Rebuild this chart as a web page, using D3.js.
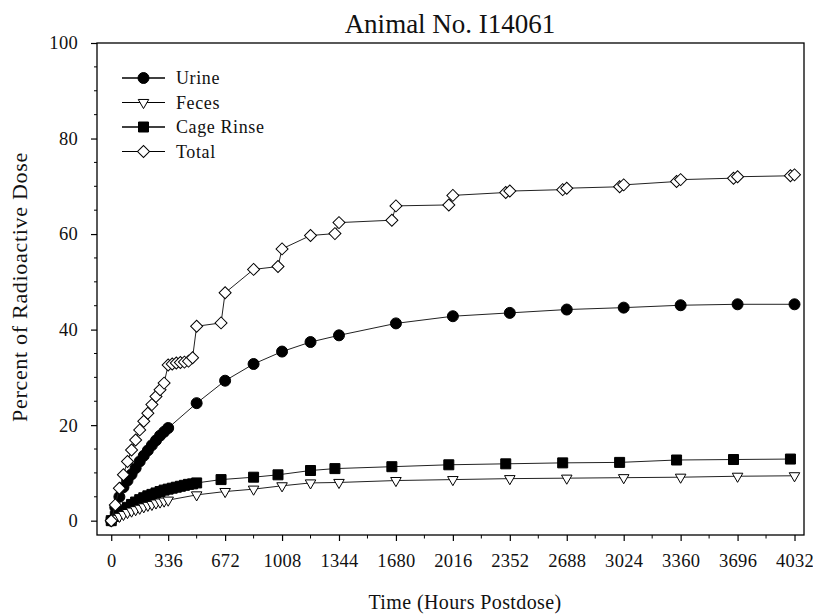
<!DOCTYPE html>
<html>
<head>
<meta charset="utf-8">
<script src="https://cdn.jsdelivr.net/npm/d3@7"></script>
<style>
  body { margin: 0; background: #fff; }
  svg text { font-family: "Liberation Serif", "Times New Roman", serif; fill: #111; }
</style>
</head>
<body>
<svg id="chart" width="813" height="614"></svg>
<script>
// data (hours postdose, % of dose)
var urineHours = [0, 24, 48, 72, 96, 120, 144, 168, 192, 216, 240, 264, 288, 312, 336,
    504, 672, 840, 1008, 1176, 1344, 1680, 2016, 2352, 2688, 3024, 3360, 3696, 4032];
var urineValues = [0, 2.8, 5.0, 7.0, 8.4, 9.7, 11.0, 12.4, 13.6, 14.7, 15.8, 16.8, 17.8, 18.6, 19.4,
    24.6, 29.3, 32.8, 35.4, 37.4, 38.8, 41.3, 42.8, 43.5, 44.2, 44.6, 45.1, 45.3, 45.3];

var fecesHours = [0, 24, 48, 72, 96, 120, 144, 168, 192, 216, 240, 264, 288, 312, 336,
    504, 672, 840, 1008, 1176, 1344, 1680, 2016, 2352, 2688, 3024, 3360, 3696, 4032];
var fecesValues = [0, 0.5, 0.9, 1.3, 1.7, 2.0, 2.3, 2.6, 2.9, 3.2, 3.4, 3.7, 3.9, 4.1, 4.3,
    5.4, 6.1, 6.6, 7.3, 7.9, 8.0, 8.4, 8.6, 8.8, 8.9, 9.0, 9.1, 9.3, 9.4];

var cageHours = [0, 24, 48, 72, 96, 120, 144, 168, 192, 216, 240, 264, 288, 312, 336,
    360, 384, 408, 432, 456, 480, 504,
    648, 840, 984, 1176, 1320, 1656, 1992, 2328, 2664, 3000, 3336, 3672, 4008];
var cageValues = [0, 0.9, 1.6, 2.2, 2.8, 3.4, 3.9, 4.4, 4.8, 5.2, 5.5, 5.8, 6.1, 6.4, 6.6,
    6.8, 7.0, 7.2, 7.4, 7.6, 7.7, 7.9,
    8.6, 9.1, 9.6, 10.5, 10.9, 11.3, 11.7, 11.9, 12.1, 12.2, 12.7, 12.8, 12.9];

var totalHours = [0, 24, 48, 72, 96, 120, 144, 168, 192, 216, 240, 264, 288, 312,
    336, 360, 384, 408, 432, 456, 480,
    504, 648, 672, 840, 984, 1008, 1176, 1320, 1344, 1656, 1680, 1992, 2016,
    2328, 2352, 2664, 2688, 3000, 3024, 3336, 3360, 3672, 3696, 4008, 4032];
var totalValues = [0, 3.3, 6.8, 9.6, 12.4, 14.8, 16.9, 19.0, 20.8, 22.5, 24.3, 26.0, 27.4, 28.8,
    32.6, 32.8, 33.0, 33.1, 33.2, 33.4, 34.1,
    40.7, 41.4, 47.7, 52.6, 53.2, 56.9, 59.7, 60.1, 62.4, 62.9, 65.9, 66.1, 68.1,
    68.7, 69.0, 69.3, 69.6, 69.9, 70.3, 71.0, 71.4, 71.7, 72.0, 72.2, 72.4];

var xTicks = [0, 336, 672, 1008, 1344, 1680, 2016, 2352, 2688, 3024, 3360, 3696, 4032];
var xMinorTicks = [168, 504, 840, 1176, 1512, 1848, 2184, 2520, 2856, 3192, 3528, 3864];
var yTicks = [0, 20, 40, 60, 80, 100];
var yMinorTicks = [5, 10, 15, 25, 30, 35, 45, 50, 55, 65, 70, 75, 85, 90, 95];

var seriesNames = ["Urine", "Feces", "Cage Rinse", "Total"];

var svg = d3.select("#chart");
var plotLeft = 97, plotRight = 804, plotTop = 43, plotBottom = 535;

var x = d3.scaleLinear().domain([-84, 4088]).range([plotLeft, plotRight]);
var y = d3.scaleLinear().domain([-3, 100]).range([plotBottom, plotTop]);

// title and axis labels
svg.append("text").attr("x", 450).attr("y", 33).attr("text-anchor", "middle")
    .style("font-size", "27px").text("Animal No. I14061");
svg.append("text").attr("x", 465).attr("y", 609).attr("text-anchor", "middle")
    .style("font-size", "20px").style("letter-spacing", "0.4px").text("Time (Hours Postdose)");
svg.append("text").attr("transform", "translate(27,287) rotate(-90)")
    .attr("text-anchor", "middle").style("font-size", "22px").style("letter-spacing", "0.7px")
    .text("Percent of Radioactive Dose");

// axes (ticks outside the frame)
var xAxis = svg.append("g").attr("transform", "translate(0," + plotBottom + ")")
    .call(d3.axisBottom(x).tickValues(xTicks).tickSize(6).tickSizeOuter(0).tickPadding(13).tickFormat(d3.format("d")));
xAxis.append("g").selectAll("line").data(xMinorTicks).enter().append("line")
    .attr("x1", function (d) { return x(d); }).attr("x2", function (d) { return x(d); })
    .attr("y1", 0).attr("y2", 3.5).attr("stroke", "#000");

var yAxis = svg.append("g").attr("transform", "translate(" + plotLeft + ",0)")
    .call(d3.axisLeft(y).tickValues(yTicks).tickSize(6).tickSizeOuter(0).tickPadding(13));
yAxis.append("g").selectAll("line").data(yMinorTicks).enter().append("line")
    .attr("y1", function (d) { return y(d); }).attr("y2", function (d) { return y(d); })
    .attr("x1", 0).attr("x2", -3).attr("stroke", "#000");

svg.selectAll(".domain").remove();
svg.selectAll(".tick line").attr("stroke", "#000").attr("stroke-width", 1.2);
svg.selectAll(".tick text").style("font-size", "18.5px").style("letter-spacing", "0.3px")
    .style("font-family", "Liberation Serif").attr("fill", "#111");

svg.append("rect").attr("x", plotLeft).attr("y", plotTop)
    .attr("width", plotRight - plotLeft).attr("height", plotBottom - plotTop)
    .attr("fill", "none").attr("stroke", "#000").attr("stroke-width", 1.3);

// marker symbols (diamond = square turned 45 degrees, as in the original)
var symbols = {
    "Urine": { type: d3.symbolCircle, size: 95, fill: "#000" },
    "Feces": { type: d3.symbolTriangle, size: 48, fill: "#fff", rotate: 180 },
    "Cage Rinse": { type: d3.symbolSquare, size: 100, fill: "#000" },
    "Total": { type: d3.symbolSquare, size: 72, fill: "#fff", rotate: 45 }
};

function drawMarker(g, name, px, py) {
    var s = symbols[name];
    g.append("path")
        .attr("d", d3.symbol().type(s.type).size(s.size))
        .attr("transform", "translate(" + px + "," + py + ")" + (s.rotate ? " rotate(" + s.rotate + ")" : ""))
        .attr("fill", s.fill).attr("stroke", "#000").attr("stroke-width", 1);
}

function drawSeries(name, hours, values) {
    var pts = hours.map(function (h, i) { return [h, values[i]]; });
    var g = svg.append("g").attr("class", "series");
    g.append("path").datum(pts)
        .attr("d", d3.line().x(function (d) { return x(d[0]); }).y(function (d) { return y(d[1]); }))
        .attr("fill", "none").attr("stroke", "#222").attr("stroke-width", 1);
    pts.forEach(function (d) { drawMarker(g, name, x(d[0]), y(d[1])); });
}

drawSeries("Urine", urineHours, urineValues);
drawSeries("Cage Rinse", cageHours, cageValues);
drawSeries("Feces", fecesHours, fecesValues);
drawSeries("Total", totalHours, totalValues);

// legend
var legend = svg.append("g");
seriesNames.forEach(function (name, i) {
    var ly = 78 + i * 24.5;
    legend.append("line").attr("x1", 122).attr("x2", 165).attr("y1", ly).attr("y2", ly)
        .attr("stroke", "#000").attr("stroke-width", name == "Urine" || name == "Cage Rinse" ? 1.6 : 1.1);
    drawMarker(legend, name, 143.5, ly);
    legend.append("text").attr("x", 176).attr("y", ly + 6)
        .style("font-size", "18px").style("letter-spacing", "0.6px").text(name);
});
</script>
</body>
</html>
